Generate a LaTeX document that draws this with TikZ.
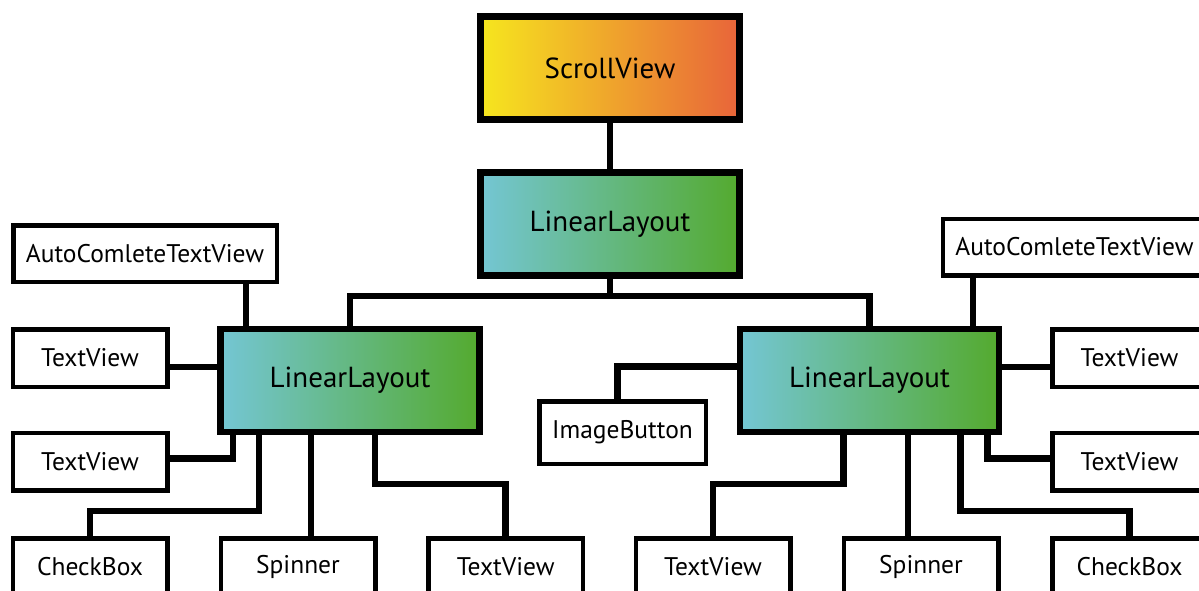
\documentclass[tikz,border=0pt]{standalone}
\usepackage{fontspec}
\setmainfont{PT Sans}
\definecolor{svyellow}{RGB}{246,230,30}
\definecolor{svorange}{RGB}{241,178,58}
\definecolor{svred}{RGB}{232,100,58}
\definecolor{llcyan}{RGB}{116,198,212}
\definecolor{llmid}{RGB}{104,184,128}
\definecolor{llgreen}{RGB}{84,170,46}
\begin{document}
\begin{tikzpicture}[x=1pt,y=-1pt,
  bigbox/.style={draw=black, line width=6.5pt, minimum width=259pt, minimum height=103pt,
    inner sep=0pt, font=\fontsize{29}{33}\selectfont},
  smallbox/.style={draw=black, fill=white, line width=4.5pt, minimum width=154.5pt,
    minimum height=57.5pt, inner sep=0pt, font=\fontsize{25.5}{29}\selectfont},
  svshade/.style={left color=svyellow, middle color=svorange, right color=svred},
  llshade/.style={left color=llcyan, middle color=llmid, right color=llgreen},
  link/.style={line width=6.5pt, line join=miter}]
\useasboundingbox (0,0) rectangle (1199,591);

% containers
\node[bigbox, svshade] (sv) at (610,68) {ScrollView};
\node[bigbox, llshade] (top) at (610,224) {LinearLayout};
\node[bigbox, llshade] (lLL) at (350,380.5) {LinearLayout};
\node[bigbox, llshade] (rLL) at (869.5,380.5) {LinearLayout};

% left widgets
\node[smallbox, minimum width=263.5pt, minimum height=56.5pt] (acL) at (145,253.5) {AutoComleteTextView};
\node[smallbox] (tvL1) at (90,358) {TextView};
\node[smallbox] (tvL2) at (90,461.5) {TextView};
\node[smallbox] (chkL) at (90,567) {CheckBox};
\node[smallbox] (spL) at (298,567) {Spinner};
\node[smallbox] (tvbL) at (505.7,567) {TextView};

% right widgets
\node[smallbox, minimum width=263.5pt, minimum height=56.5pt] (acR) at (1074.5,247) {AutoComleteTextView};
\node[smallbox] (tvR1) at (1129.5,358) {TextView};
\node[smallbox] (tvR2) at (1129.5,461.5) {TextView};
\node[smallbox] (chkR) at (1129.5,567) {CheckBox};
\node[smallbox] (spR) at (921,567) {Spinner};
\node[smallbox] (tvbR) at (713,567) {TextView};
\node[smallbox, minimum width=166.5pt, minimum height=62.5pt] (img) at (622.5,432.5) {ImageButton};

% tree links
\coordinate (bus) at (610,296);
\draw[link] (sv.south) -- (top.north);
\draw[link] (top.south) -- (bus);
\draw[link] (lLL.north) |- (bus) -| (rLL.north);

\draw[link] ([xshift=101pt]acL.south) -- ([xshift=101pt]acL.south |- lLL.north);
\draw[link] ([yshift=-9pt]tvL1.east) -- ([yshift=-9pt]tvL1.east -| lLL.west);
\draw[link] ([xshift=-117pt]lLL.south) |- ([yshift=3pt]tvL2.east);
\draw[link] ([xshift=-91pt]lLL.south) |- ([yshift=25pt]chkL.north) -- (chkL.north);
\draw[link] ([xshift=13pt]spL.north) -- ([xshift=13pt]spL.north |- lLL.south);
\draw[link] ([xshift=25pt]lLL.south) |- ([yshift=52pt]tvbL.north) -- (tvbL.north);

\draw[link] ([xshift=-101.5pt]acR.south) -- ([xshift=-101.5pt]acR.south |- rLL.north);
\draw[link] ([yshift=-9pt]tvR1.west) -- ([yshift=-9pt]tvR1.west -| rLL.east);
\draw[link] ([xshift=118pt]rLL.south) |- ([yshift=3pt]tvR2.west);
\draw[link] ([xshift=91pt]rLL.south) |- ([yshift=25pt]chkR.north) -- (chkR.north);
\draw[link] ([xshift=-13pt]spR.north) -- ([xshift=-13pt]spR.north |- rLL.south);
\draw[link] ([xshift=-26pt]rLL.south) |- ([yshift=52pt]tvbR.north) -- (tvbR.north);
\draw[link] ([yshift=14pt]rLL.west) -| ([xshift=-5pt]img.north);
\end{tikzpicture}
\end{document}
